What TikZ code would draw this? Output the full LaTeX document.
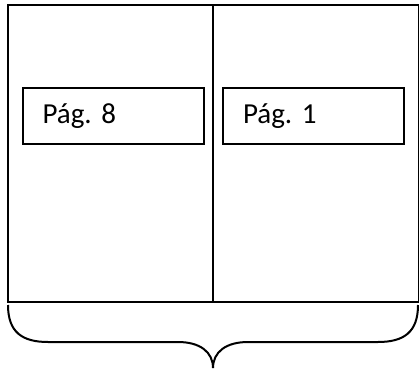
\documentclass[tikz,border=0pt]{standalone}
\usepackage{fontspec}
\setmainfont{Carlito}

\tikzset{
  pagebox/.style={draw, inner sep=0pt, minimum width=205.5pt, minimum height=297pt},
  labelbox/.style={draw, inner xsep=20pt, inner ysep=0pt, minimum height=56pt,
    text width=141pt, align=left, font=\fontsize{29}{31}\selectfont\frenchspacing},
}

\begin{document}
\begin{tikzpicture}[x=1pt, y=-1pt, line width=2pt]
        \useasboundingbox (0,0) rectangle (419,374);

        % the two pages
        \node[pagebox] (leftpage) at (110.25, 153.5) {};
        \node[pagebox] (rightpage) at (315.75, 153.5) {};

        % page labels
        \node[labelbox] (pag8) at (113, 116) {Pág. 8};
        \node[labelbox] (pag1) at (313.5, 116) {Pág. 1};

        % brace under the spread
        \draw (8, 305) .. controls (8, 332) and (22, 342) .. (48, 342)
              -- (178, 342) .. controls (200, 342) and (213, 352) .. (213, 368);
        \draw (418, 305) .. controls (418, 332) and (404, 342) .. (378, 342)
              -- (248, 342) .. controls (226, 342) and (213, 352) .. (213, 368);
      \end{tikzpicture}
\end{document}
